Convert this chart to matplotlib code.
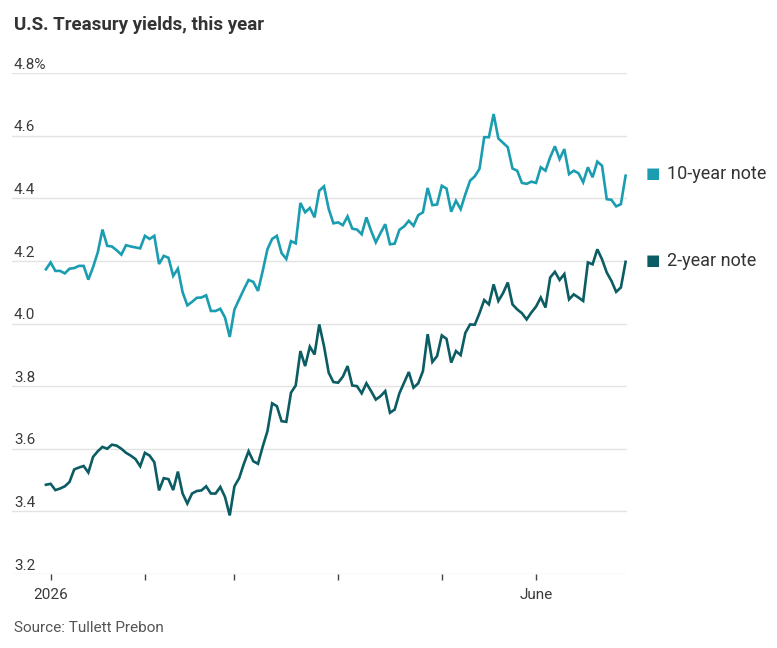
import numpy as np
import matplotlib.pyplot as plt

# yields in %, one value per trading day (Dec 31 -> late June)
ten_year = [
    4.173, 4.195, 4.168, 4.168, 4.160, 4.175, 4.177, 4.184, 4.184, 4.140,
    4.180, 4.227, 4.300, 4.248, 4.246, 4.234, 4.220, 4.250, 4.246, 4.243,
    4.240, 4.280, 4.270, 4.280, 4.190, 4.216, 4.210, 4.152, 4.175, 4.100,
    4.058, 4.069, 4.082, 4.083, 4.090, 4.040, 4.040, 4.047, 4.019, 3.957,
    4.045, 4.077, 4.109, 4.139, 4.133, 4.104, 4.168, 4.237, 4.270, 4.280,
    4.225, 4.206, 4.263, 4.256, 4.385, 4.355, 4.369, 4.339, 4.424, 4.438,
    4.366, 4.320, 4.323, 4.314, 4.342, 4.303, 4.300, 4.285, 4.339, 4.296,
    4.259, 4.289, 4.317, 4.253, 4.255, 4.299, 4.310, 4.328, 4.312, 4.346,
    4.355, 4.433, 4.378, 4.380, 4.440, 4.431, 4.357, 4.392, 4.365, 4.413,
    4.456, 4.470, 4.494, 4.595, 4.595, 4.669, 4.591, 4.577, 4.563, 4.495,
    4.488, 4.449, 4.446, 4.453, 4.449, 4.499, 4.488, 4.531, 4.566, 4.525,
    4.557, 4.477, 4.488, 4.480, 4.451, 4.499, 4.467, 4.517, 4.504, 4.397,
    4.395, 4.374, 4.381, 4.472,
]
two_year = [
    3.485, 3.488, 3.468, 3.473, 3.480, 3.494, 3.534, 3.540, 3.545, 3.524,
    3.574, 3.592, 3.606, 3.600, 3.613, 3.610, 3.600, 3.587, 3.578, 3.567,
    3.544, 3.587, 3.578, 3.557, 3.467, 3.506, 3.503, 3.468, 3.527, 3.457,
    3.425, 3.457, 3.465, 3.467, 3.480, 3.457, 3.457, 3.478, 3.446, 3.387,
    3.480, 3.506, 3.552, 3.592, 3.560, 3.552, 3.607, 3.656, 3.745, 3.736,
    3.688, 3.686, 3.779, 3.802, 3.912, 3.864, 3.926, 3.901, 3.997, 3.928,
    3.843, 3.813, 3.811, 3.830, 3.864, 3.802, 3.800, 3.777, 3.809, 3.784,
    3.757, 3.768, 3.784, 3.715, 3.725, 3.777, 3.811, 3.845, 3.795, 3.809,
    3.848, 3.966, 3.877, 3.896, 3.962, 3.951, 3.875, 3.912, 3.899, 3.970,
    3.997, 3.996, 4.033, 4.075, 4.061, 4.125, 4.072, 4.097, 4.131, 4.061,
    4.045, 4.033, 4.013, 4.035, 4.054, 4.083, 4.051, 4.147, 4.165, 4.139,
    4.158, 4.077, 4.093, 4.083, 4.072, 4.195, 4.189, 4.237, 4.205, 4.163,
    4.136, 4.101, 4.115, 4.197,
]

# month starts (trading-day index) and their labels
month_idx = [1, 21, 40, 62, 84, 104]
month_lbl = ["2026", "", "", "", "", "June"]

y_ticks = [3.2, 3.4, 3.6, 3.8, 4.0, 4.2, 4.4, 4.6, 4.8]
y_lbls = ["3.2", "3.4", "3.6", "3.8", "4.0", "4.2", "4.4", "4.6", "4.8%"]

c10 = "#1a9db0"
c2 = "#0b5d63"
txt = "#333333"

plt.rcParams["font.family"] = ["Roboto", "DejaVu Sans"]

fig = plt.figure(figsize=(7.77, 6.48), dpi=100)
ax = fig.add_axes([12 / 777, 74 / 648, 615 / 777, 501 / 648])

x = np.arange(len(ten_year))
ax.plot(x, ten_year, color=c10, lw=1.9, solid_joinstyle="miter")
ax.plot(np.arange(len(two_year)), two_year, color=c2, lw=1.9, solid_joinstyle="miter")

ax.set_ylim(3.2, 4.8)
ax.set_xlim(-7.2, 123.3)

# grid lines with labels sitting above them on the left
for v, lab in zip(y_ticks, y_lbls):
    ax.axhline(v, color="#e3e3e3", lw=1.0, zorder=0)
    ax.text(0.003, v + 0.004, lab, transform=ax.get_yaxis_transform(), ha="left", va="bottom",
            fontsize=11, color="#3a3a3a")

for s in ax.spines.values():
    s.set_visible(False)
ax.set_yticks([])
ax.set_xticks(month_idx)
ax.set_xticklabels(month_lbl, fontsize=11, color="#3a3a3a")
ax.tick_params(axis="x", length=4, width=1, color="#444444", pad=6)

# legend at the right edge
fig.text(646 / 777, 1 - 174 / 648, "\u25A0", color=c10, fontsize=11, va="center", ha="left")
fig.text(667 / 777, 1 - 174 / 648, "10-year note", color=txt, fontsize=13, va="center", ha="left")
fig.text(646 / 777, 1 - 261 / 648, "\u25A0", color=c2, fontsize=11, va="center", ha="left")
fig.text(667 / 777, 1 - 261 / 648, "2-year note", color=txt, fontsize=13, va="center", ha="left")

fig.text(14 / 777, 1 - 25 / 648, "U.S. Treasury yields, this year", fontsize=13.5,
         fontweight="bold", color=txt, va="center", ha="left")
fig.text(14 / 777, 1 - 628 / 648, "Source: Tullett Prebon", fontsize=11,
         color="#555555", va="center", ha="left")

fig.savefig("out.png", dpi=100)
